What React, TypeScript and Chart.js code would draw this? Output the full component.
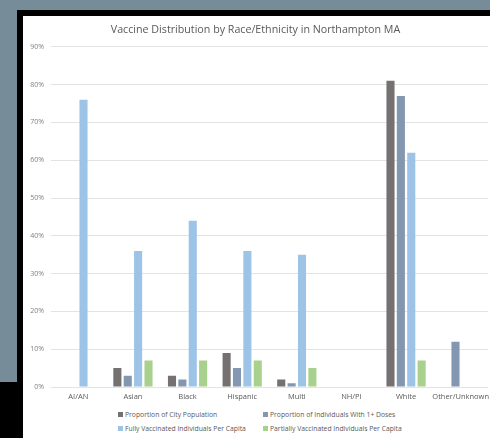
import { useEffect, useRef } from "react";
import { Chart, registerables, type ChartConfiguration } from "chart.js";

Chart.register(...registerables);

const CATEGORIES = ["AI/AN", "Asian", "Black", "Hispanic", "Multi", "NH/PI", "White", "Other/Unknown"];
const CITY_POPULATION = [0, 5, 3, 9, 2, 0, 81, 0];
const ONE_PLUS_DOSES = [0, 3, 2, 5, 1, 0, 77, 12];
const FULLY_VACCINATED = [76, 36, 44, 36, 35, 0, 62, 0];
const PARTIALLY_VACCINATED = [0, 7, 7, 7, 5, 0, 7, 0];
const Y_TICKS = [0, 10, 20, 30, 40, 50, 60, 70, 80, 90];

const SERIES_NAMES = [
  "Proportion of City Population",
  "Proportion of Individuals With 1+ Doses",
  "Fully Vaccinated Individuals Per Capita",
  "Partially Vaccinated Individuals Per Capita",
];
const SERIES_VALUES = [CITY_POPULATION, ONE_PLUS_DOSES, FULLY_VACCINATED, PARTIALLY_VACCINATED];
const SERIES_COLORS = ["#757171", "#8497b0", "#9dc3e6", "#a9d18e"];

const FONT = "'Open Sans', sans-serif";
const TEXT = "#595959";

function VaccineChart() {
  const canvasRef = useRef<HTMLCanvasElement | null>(null);

  useEffect(() => {
    const canvas = canvasRef.current;
    if (!canvas) return;

    const config: ChartConfiguration<"bar"> = {
      type: "bar",
      data: {
        labels: CATEGORIES,
        datasets: SERIES_NAMES.map((name, i) => ({
          label: name,
          data: SERIES_VALUES[i],
          backgroundColor: SERIES_COLORS[i],
          borderWidth: 0,
          categoryPercentage: 0.76,
          barPercentage: 0.78,
        })),
      },
      options: {
        responsive: false,
        animation: false,
        layout: { padding: { left: 0, right: 15, top: 0, bottom: 0 } },
        plugins: {
          legend: { display: false },
          tooltip: { enabled: false },
          title: {
            display: true,
            text: "Vaccine Distribution by Race/Ethnicity in Northampton MA",
            color: TEXT,
            font: { family: FONT, size: 10.7, weight: "normal" },
            padding: { top: 8, bottom: 10 },
          },
        },
        scales: {
          x: {
            grid: { display: false, drawTicks: false },
            border: { display: false },
            ticks: {
              color: TEXT,
              padding: 5,
              maxRotation: 0,
              autoSkip: false,
              font: { family: FONT, size: 7.5 },
            },
          },
          y: {
            min: 0,
            max: 90,
            afterBuildTicks: (scale) => {
              scale.ticks = Y_TICKS.map((v) => ({ value: v }));
            },
            afterFit: (scale) => {
              scale.width = 28;
            },
            grid: { color: "#e3e3e3", lineWidth: 1, drawTicks: false },
            border: { display: false },
            ticks: {
              color: "#808080",
              padding: 7,
              font: { family: FONT, size: 7 },
              callback: (v) => `${v}%`,
            },
          },
        },
      },
    };

    const chart = new Chart(canvas, config);
    return () => chart.destroy();
  }, []);

  return <canvas ref={canvasRef} width={480} height={390} style={{ width: 480, height: 390, display: "block" }} />;
}

function Legend() {
  return (
    <div
      style={{
        position: "absolute",
        left: 95,
        top: 393,
        display: "grid",
        gridTemplateColumns: "145px 175px",
        rowGap: 4,
        fontFamily: FONT,
        fontSize: 6.8,
        color: TEXT,
      }}
    >
      {SERIES_NAMES.map((name, i) => (
        <div key={name} style={{ display: "flex", alignItems: "center", height: 10, whiteSpace: "nowrap" }}>
          <span style={{ width: 5, height: 5, background: SERIES_COLORS[i], marginRight: 2, display: "inline-block" }} />
          {name}
        </div>
      ))}
    </div>
  );
}

export default function App() {
  return (
    <div style={{ position: "fixed", left: 0, top: 0, width: 490, height: 438, background: "#768d99", overflow: "hidden" }}>
      <div style={{ position: "absolute", left: 17, top: 10, right: 0, bottom: 0, background: "#000" }} />
      <div style={{ position: "absolute", left: 0, top: 382, width: 23, bottom: 0, background: "#000" }} />
      <div style={{ position: "absolute", left: 23, top: 16, right: 0, bottom: 0, background: "#fff", overflow: "hidden" }}>
        <VaccineChart />
        <Legend />
      </div>
    </div>
  );
}
